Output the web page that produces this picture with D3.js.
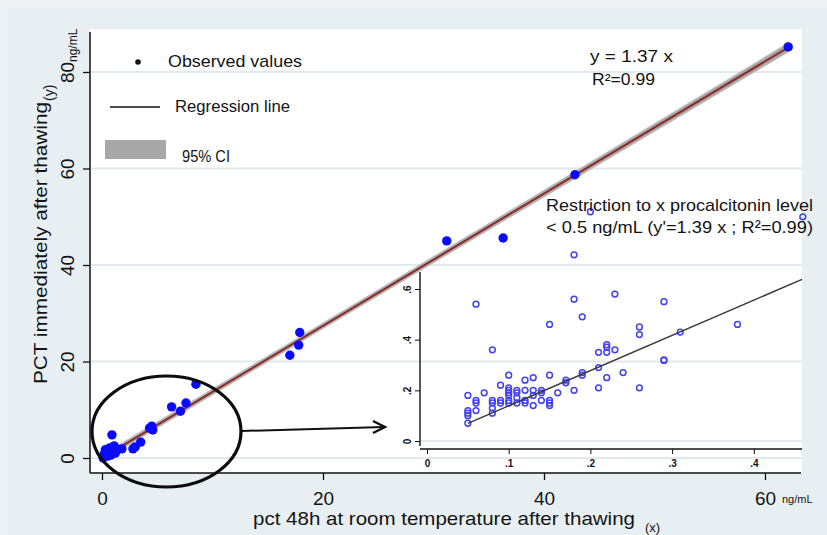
<!DOCTYPE html>
<html><head><meta charset="utf-8">
<script src="https://cdn.jsdelivr.net/npm/d3@7"></script>
<style>body{margin:0;background:#e9eff3}svg{display:block}text{font-family:"Liberation Sans",Arial,sans-serif;fill:#141414}</style>
</head><body><svg id="c" width="827" height="535"></svg>
<script>
// ---- data ----
const mainX = [62.1, 42.8, 36.3, 31.2, 17.9, 17.8, 17.0, 8.5, 6.3, 7.1, 7.6, 4.5, 4.6, 4.3, 3.5, 3.0, 2.8, 1.8, 0.9, 0.1, 0.4, 0.6, 0.7, 1.0, 1.1, 0.5, 0.8, 1.2, 0.3, 1.3, 0.2];
const mainY = [85.2, 58.7, 45.6, 45.0, 26.0, 23.4, 21.3, 15.3, 10.6, 9.7, 11.4, 6.6, 5.8, 6.2, 3.3, 2.3, 1.9, 1.9, 4.8, 0.0, 0.6, 1.2, 2.1, 1.7, 2.5, 0.4, 0.6, 1.0, 1.7, 1.9, 0.8];
const slopeMain = 1.37;
const ciX = [0.1, 20, 40, 62.1];
const ciHalf = [0.55, 0.5, 0.6, 0.85];
const xTicks = [0, 20, 40, 60];
const yTicks = [0, 20, 40, 60, 80];

const insetX = [0.06,0.18,0.23,0.29,0.19,0.15,0.38,0.26,0.26,0.31,0.08,0.21,0.22,0.22,0.22,0.23,0.29,0.29,0.24,0.19,0.19,0.21,0.22,0.17,0.17,0.18,0.21,0.26,0.16,0.15,0.10,0.12,0.13,0.09,
0.10,0.10,0.10,0.10,0.10,0.11,0.11,0.11,0.11,0.12,0.12,0.12,0.13,0.13,0.13,0.14,0.14,0.14,0.15,0.15,0.15,
0.07,0.05,0.05,0.05,0.05,0.05,0.06,0.06,0.06,0.08,0.08,0.08,0.08,0.09,0.09,0.10,0.20,0.18,0.46];
const insetY = [0.54,0.56,0.58,0.55,0.49,0.46,0.46,0.45,0.42,0.43,0.36,0.35,0.38,0.37,0.35,0.36,0.32,0.318,0.27,0.27,0.26,0.29,0.25,0.24,0.23,0.20,0.21,0.21,0.19,0.26,0.26,0.24,0.25,0.22,
0.21,0.20,0.19,0.18,0.16,0.20,0.19,0.17,0.15,0.20,0.16,0.15,0.20,0.18,0.14,0.20,0.19,0.16,0.16,0.15,0.14,
0.19,0.18,0.12,0.11,0.10,0.07,0.16,0.15,0.12,0.16,0.15,0.13,0.11,0.16,0.15,0.15,0.905,0.735,0.885];
const slopeInset = 1.39;
const insetXTicks = [0, 0.1, 0.2, 0.3, 0.4];
const insetYTicks = [0, 0.2, 0.4, 0.6];

// ---- drawing ----
const svg = d3.select("#c");
const fit = (s, w) => s.attr("textLength", w).attr("lengthAdjust", "spacingAndGlyphs");

svg.append("rect").attr("width", 827).attr("height", 535).attr("fill", "#eef2f4");
svg.append("rect").attr("x", 8).attr("y", 8).attr("width", 819).attr("height", 527).attr("fill", "#e8eff3");
svg.append("rect").attr("x", 90).attr("y", 29).attr("width", 712).attr("height", 444).attr("fill", "#ffffff");

const x = d3.scaleLinear().domain([0, 60]).range([102, 765]);
const y = d3.scaleLinear().domain([0, 80]).range([458, 72]);

// gridlines
svg.append("g").selectAll("line").data(yTicks).join("line")
  .attr("x1", 91).attr("x2", 802).attr("y1", d => y(d)).attr("y2", d => y(d))
  .attr("stroke", "#e2e9ed").attr("stroke-width", 2);

// axes
const ya = svg.append("g").attr("transform", "translate(90,0)")
  .call(d3.axisLeft(y).tickValues(yTicks).tickSize(7).tickSizeOuter(0));
ya.select(".domain").remove();
ya.append("line").attr("x1", 0).attr("x2", 0).attr("y1", 32).attr("y2", 473).attr("stroke", "#111").attr("stroke-width", 1.5);
ya.selectAll(".tick line").attr("stroke", "#111").attr("stroke-width", 1.3);
ya.selectAll(".tick text").attr("transform", "rotate(-90)").attr("x", 0).attr("y", -16).attr("dy", 0)
  .attr("text-anchor", "middle").style("font-size", "19px").style("font-family", "Liberation Sans, Arial").attr("fill", "#141414");

const xa = svg.append("g").attr("transform", "translate(0,473)")
  .call(d3.axisBottom(x).tickValues(xTicks).tickSize(7).tickSizeOuter(0));
xa.select(".domain").remove();
xa.append("line").attr("x1", 90).attr("x2", 801).attr("y1", 0).attr("y2", 0).attr("stroke", "#111").attr("stroke-width", 1.5);
xa.selectAll(".tick line").attr("stroke", "#111").attr("stroke-width", 1.3);
xa.selectAll(".tick text").attr("y", 32).attr("dy", 0).style("font-size", "19px")
  .style("font-family", "Liberation Sans, Arial").attr("fill", "#141414");

// axis titles & units
fit(svg.append("text").attr("transform", "translate(47,384) rotate(-90)").style("font-size", "19px")
  .text("PCT immediately after thawing"), 282);
svg.append("text").attr("transform", "translate(54,101) rotate(-90)").style("font-size", "14px").text("(y)");
svg.append("text").attr("transform", "translate(77,62) rotate(-90)").style("font-size", "12px").text("ng/mL");
fit(svg.append("text").attr("x", 253).attr("y", 525).style("font-size", "19px")
  .text("pct 48h at room temperature after thawing"), 382);
svg.append("text").attr("x", 645).attr("y", 532).style("font-size", "13px").text("(x)");
svg.append("text").attr("x", 782).attr("y", 503).style("font-size", "11px").text("ng/mL");

// CI band + regression line
const ciData = ciX.map((d, i) => ({x: d, lo: slopeMain * d - ciHalf[i], hi: slopeMain * d + ciHalf[i]}));
svg.append("path").datum(ciData)
  .attr("d", d3.area().x(d => x(d.x)).y0(d => y(d.lo)).y1(d => y(d.hi)))
  .attr("fill", "#a3a3a3").attr("stroke", "#b8b8b8").attr("stroke-width", 1.5);
const xr = d3.extent(mainX);
svg.append("line").attr("x1", x(xr[0])).attr("y1", y(slopeMain * xr[0]))
  .attr("x2", x(xr[1])).attr("y2", y(slopeMain * xr[1]))
  .attr("stroke", "#8e2a2a").attr("stroke-width", 2);

// ---- inset ----
const ix = d3.scaleLinear().domain([0, 0.4]).range([427, 753.8]);
const iy = d3.scaleLinear().domain([0, 0.6]).range([441, 289]);
svg.append("line").attr("x1", 421).attr("x2", 802).attr("y1", iy(0)).attr("y2", iy(0))
  .attr("stroke", "#e2e9ed").attr("stroke-width", 2);
const iya = svg.append("g").attr("transform", "translate(420,0)")
  .call(d3.axisLeft(iy).tickValues(insetYTicks).tickFormat(d => d === 0 ? "0" : d3.format(".1f")(d).replace(/^0/, "")).tickSize(5).tickSizeOuter(0));
iya.select(".domain").remove();
iya.append("line").attr("x1", 0).attr("x2", 0).attr("y1", 272).attr("y2", 446).attr("stroke", "#111").attr("stroke-width", 1.4);
iya.selectAll(".tick line").attr("stroke", "#111");
iya.selectAll(".tick text").attr("transform", "rotate(-90)").attr("x", 0).attr("y", -9).attr("dy", 0)
  .attr("text-anchor", "middle").style("font-size", "10px").style("font-weight", "bold")
  .style("font-family", "Liberation Sans, Arial").attr("fill", "#222");
const ixa = svg.append("g").attr("transform", "translate(0,449)")
  .call(d3.axisBottom(ix).tickValues(insetXTicks).tickFormat(d => d === 0 ? "0" : d3.format(".1f")(d).replace(/^0/, "")).tickSize(5).tickSizeOuter(0));
ixa.select(".domain").remove();
ixa.append("line").attr("x1", 420).attr("x2", 802).attr("y1", 0).attr("y2", 0).attr("stroke", "#111").attr("stroke-width", 1.4);
ixa.selectAll(".tick line").attr("stroke", "#111");
ixa.selectAll(".tick text").attr("y", 18).attr("dy", 0).style("font-size", "10px").style("font-weight", "bold")
  .style("font-family", "Liberation Sans, Arial").attr("fill", "#222");

svg.append("g").selectAll("circle").data(insetX).join("circle")
  .attr("cx", d => ix(d)).attr("cy", (d, i) => iy(insetY[i])).attr("r", 2.9)
  .attr("fill", "none").attr("stroke", "#4242f2").attr("stroke-width", 1.5);
const xEnd = ix.invert(802);
svg.append("line").attr("x1", ix(0.05)).attr("y1", iy(slopeInset * 0.05))
  .attr("x2", ix(xEnd)).attr("y2", iy(slopeInset * xEnd))
  .attr("stroke", "#3a3a3a").attr("stroke-width", 1.5);

// main points
svg.append("g").selectAll("circle").data(mainX).join("circle")
  .attr("cx", d => x(d)).attr("cy", (d, i) => y(mainY[i])).attr("r", 4.7).attr("fill", "#0a0aff");

// ellipse + arrow annotation
svg.append("ellipse").attr("cx", 166.5).attr("cy", 431.5).attr("rx", 74.5).attr("ry", 55.5)
  .attr("fill", "none").attr("stroke", "#0c0c0c").attr("stroke-width", 3.2);
svg.append("line").attr("x1", 241).attr("y1", 431).attr("x2", 384).attr("y2", 427).attr("stroke", "#111").attr("stroke-width", 2);
svg.append("path").attr("d", "M373,421L385,427L373,433").attr("fill", "none").attr("stroke", "#111").attr("stroke-width", 2.4);

// legend
svg.append("circle").attr("cx", 138).attr("cy", 62).attr("r", 2.8).attr("fill", "#111");
fit(svg.append("text").attr("x", 168).attr("y", 67).style("font-size", "17px").text("Observed values"), 134);
svg.append("line").attr("x1", 110).attr("x2", 160).attr("y1", 107).attr("y2", 107).attr("stroke", "#111").attr("stroke-width", 1.3);
fit(svg.append("text").attr("x", 175).attr("y", 112).style("font-size", "17px").text("Regression line"), 115);
svg.append("rect").attr("x", 105).attr("y", 140).attr("width", 61).attr("height", 19).attr("fill", "#a8a8a8");
fit(svg.append("text").attr("x", 182).attr("y", 162).style("font-size", "16px").text("95% CI"), 48);

// equations
fit(svg.append("text").attr("x", 590).attr("y", 62).style("font-size", "16px").text("y = 1.37  x"), 83);
fit(svg.append("text").attr("x", 592).attr("y", 85).style("font-size", "16px").text("R²=0.99"), 63);
fit(svg.append("text").attr("x", 546).attr("y", 211).style("font-size", "17px").text("Restriction to x  procalcitonin level"), 267);
fit(svg.append("text").attr("x", 546).attr("y", 233).style("font-size", "17px").text("< 0.5 ng/mL  (y'=1.39 x ; R²=0.99)"), 267);
</script></body></html>
